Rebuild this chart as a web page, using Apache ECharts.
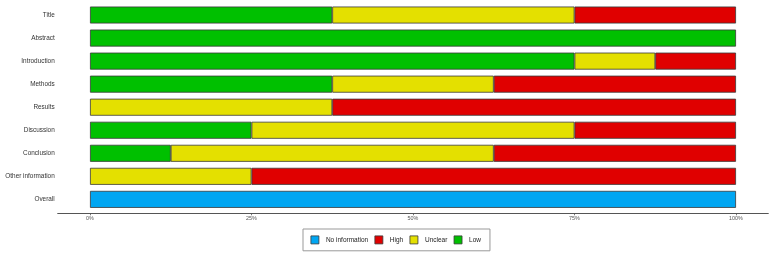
<!DOCTYPE html>
<html>
<head>
<meta charset="utf-8">
<script src="https://cdn.jsdelivr.net/npm/echarts@6/dist/echarts.min.js"></script>
<style>
html,body{margin:0;padding:0;background:#fff;}
#chart{width:772px;height:256px;}
</style>
</head>
<body>
<div id="chart"></div>
<script>
var categories = ['Title','Abstract','Introduction','Methods','Results','Discussion','Conclusion','Other information','Overall'];
var lowValues = [37.5, 100, 75, 37.5, null, 25, 12.5, null, null];
var unclearValues = [37.5, null, 12.5, 25, 37.5, 50, 50, 25, null];
var highValues = [25, null, 12.5, 37.5, 62.5, 25, 37.5, 75, null];
var noInfoValues = [null, null, null, null, null, null, null, null, 100];
var tickValues = [0, 25, 50, 75, 100];
var legendOrder = ['No information', 'High', 'Unclear', 'Low'];

var FONT = '"Liberation Sans", Arial, sans-serif';
var chart = echarts.init(document.getElementById('chart'), null, {renderer: 'canvas'});

function barSeries(name, data, color) {
  return {
    name: name,
    type: 'bar',
    stack: 'total',
    data: data,
    barWidth: 17,
    itemStyle: {color: color, borderColor: '#3a3a3a', borderWidth: 0.8},
    emphasis: {disabled: true},
    animation: false
  };
}

chart.setOption({
  animation: false,
  backgroundColor: '#ffffff',
  grid: {left: 57.7, right: 3.7, top: 3.5, height: 207.4, containLabel: false},
  xAxis: {
    type: 'value',
    min: -5,
    max: 105,
    offset: 2.4,
    splitLine: {show: false},
    axisLine: {show: true, lineStyle: {color: '#555', width: 1}},
    axisTick: {show: true, customValues: tickValues, length: 2, lineStyle: {color: '#555', width: 0.8}},
    axisLabel: {
      customValues: tickValues,
      formatter: function (v) { return v + '%'; },
      fontSize: 5.4,
      fontFamily: FONT,
      color: '#555',
      margin: 3
    }
  },
  yAxis: {
    type: 'category',
    data: categories,
    inverse: true,
    axisLine: {show: false},
    axisTick: {show: false},
    splitLine: {show: false},
    axisLabel: {fontSize: 6.4, fontFamily: FONT, color: '#333', margin: 3}
  },
  legend: {
    data: legendOrder,
    left: 303,
    top: 229,
    orient: 'horizontal',
    itemWidth: 8,
    itemHeight: 8,
    itemGap: 6.3,
    padding: [6.5, 9, 6.5, 7.5],
    borderColor: '#999',
    borderWidth: 1,
    icon: 'rect',
    selectedMode: false,
    itemStyle: {borderColor: '#3a3a3a', borderWidth: 0.8},
    textStyle: {fontSize: 6.5, fontFamily: FONT, color: '#222', padding: [0, 0, 0, 2]}
  },
  series: [
    barSeries('Low', lowValues, '#00C000'),
    barSeries('Unclear', unclearValues, '#E4E000'),
    barSeries('High', highValues, '#E00000'),
    barSeries('No information', noInfoValues, '#00A6F2')
  ]
});
</script>
</body>
</html>
